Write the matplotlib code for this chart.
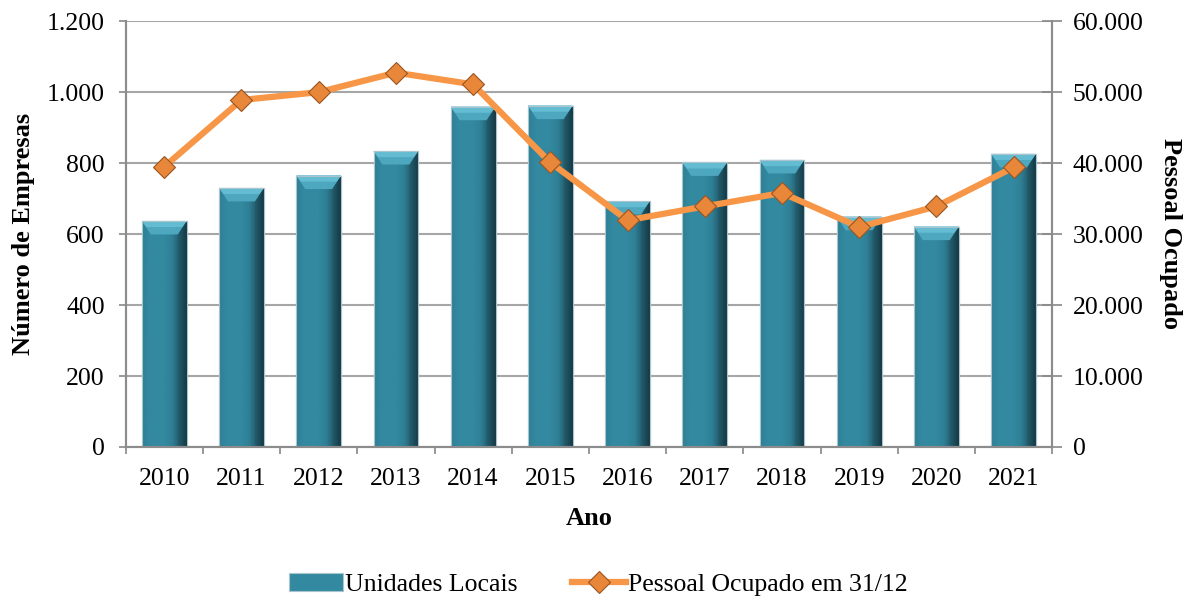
import numpy as np
import matplotlib
matplotlib.use("Agg")
import matplotlib.pyplot as plt
from matplotlib.ticker import FuncFormatter, MultipleLocator

plt.rcParams['font.family'] = ['Liberation Serif', 'DejaVu Serif']

anos = ['2010', '2011', '2012', '2013', '2014', '2015',
        '2016', '2017', '2018', '2019', '2020', '2021']
unidades = [637, 730, 765, 834, 959, 962, 693, 802, 809, 649, 621, 826]
pessoal = [39500, 48900, 50000, 52750, 51100, 40100,
           31950, 33900, 35800, 31000, 33900, 39400]

def fmt_milhar(v, pos):
    return '{:,.0f}'.format(v).replace(',', '.')

fig = plt.figure(figsize=(11.97, 6.06), dpi=100)
ax = fig.add_axes([0.105, 0.2624, 0.774, 0.7026])
ax2 = ax.twinx()

x = np.arange(len(anos))
w = 0.58
cor_barra = '#3389A0'
bars = ax.bar(x, unidades, width=w, color=cor_barra, edgecolor='#A9C4CC',
              linewidth=0.8, zorder=2, label='Unidades Locais')

# bevel look: horizontal shading + lighter cap on each bar
grad = np.linspace(0, 1, 64).reshape(1, -1)
cmap = matplotlib.colors.LinearSegmentedColormap.from_list(
    'bev', ['#2E7F95', '#3389A0', '#3389A0', '#3389A0', '#2F8096',
            '#245F70', '#0F2F38'])
for b in bars:
    x0, y0, bw, bh = b.get_x(), b.get_y(), b.get_width(), b.get_height()
    im = ax.imshow(grad, cmap=cmap, aspect='auto', extent=(x0, x0 + bw, y0, y0 + bh),
                   zorder=2.1)
    im.set_clip_path(b)
    cap = 38
    ax.fill([x0, x0 + bw, x0 + bw * 0.8, x0 + bw * 0.2],
            [y0 + bh, y0 + bh, y0 + bh - cap, y0 + bh - cap],
            color='#4DA7BF', zorder=2.2, lw=0)
    ax.fill([x0, x0 + bw, x0 + bw * 0.9, x0 + bw * 0.1],
            [y0 + bh, y0 + bh, y0 + bh - cap * 0.45, y0 + bh - cap * 0.45],
            color='#64BCD3', zorder=2.22, lw=0)
    ax.fill([x0 + bw, x0 + bw * 0.8, x0 + bw * 0.8, x0 + bw],
            [y0 + bh, y0 + bh - cap, y0, y0],
            color='#1E4F5D', zorder=2.15, lw=0, alpha=0.35)
    ax.plot([x0, x0 + bw, x0 + bw, x0, x0], [y0, y0, y0 + bh, y0 + bh, y0],
            color='#A9C4CC', lw=0.8, zorder=2.3)

ax2.plot(x, pessoal, color='#F79646', lw=4.5, marker='D', markersize=11,
         markerfacecolor='#E8873A', markeredgecolor='#9A5520', markeredgewidth=0.8,
         zorder=5, label='Pessoal Ocupado em 31/12')

ax.set_xlim(-0.5, len(anos) - 0.5)
ax.set_ylim(0, 1200)
ax2.set_ylim(0, 60000)
ax.yaxis.set_major_locator(MultipleLocator(200))
ax2.yaxis.set_major_locator(MultipleLocator(10000))
ax.yaxis.set_major_formatter(FuncFormatter(fmt_milhar))
ax2.yaxis.set_major_formatter(FuncFormatter(fmt_milhar))

ax.set_xticks(x)
ax.set_xticklabels(anos)
ax.set_xticks(np.arange(len(anos) + 1) - 0.5, minor=True)
ax.tick_params(axis='x', which='major', length=0, labelsize=18.5, pad=15)
ax.tick_params(axis='x', which='minor', length=5, color='#888888', width=1.2)
ax.tick_params(axis='y', labelsize=18.5, length=5, color='#888888', width=1.2, pad=10)
ax2.tick_params(axis='y', labelsize=18.5, direction='inout', length=14,
                color='#888888', width=1.2, pad=8)

ax.grid(axis='y', color='#A6A6A6', lw=1.5, zorder=0)
ax.set_axisbelow(True)
for a in (ax, ax2):
    for s in a.spines.values():
        s.set_color('#8C8C8C')
        s.set_linewidth(1.5)
    a.spines['top'].set_visible(False)

fig.text(0.492, 0.145, 'Ano', fontsize=19, fontweight='bold', ha='center', va='center')
fig.text(0.020, 0.614, 'Número de Empresas', fontsize=19, fontweight='bold',
         rotation=90, ha='center', va='center')
fig.text(0.9775, 0.614, 'Pessoal Ocupado', fontsize=19, fontweight='bold',
         rotation=270, ha='center', va='center')

h1, l1 = ax.get_legend_handles_labels()
h2, l2 = ax2.get_legend_handles_labels()
fig.legend(h1 + h2, l1 + l2, loc='center', bbox_to_anchor=(0.5, 0.035), ncol=2,
           frameon=False, fontsize=18.5, handlelength=2.1, handletextpad=0.08,
           columnspacing=2.1)

fig.savefig('out.png', dpi=100)
